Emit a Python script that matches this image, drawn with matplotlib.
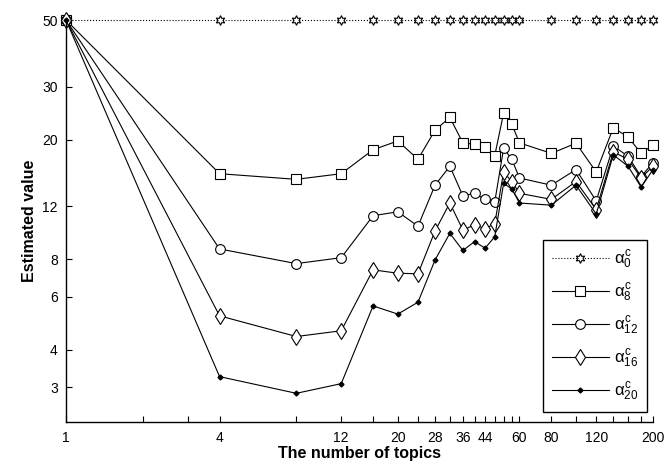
import numpy as np
import matplotlib
matplotlib.use('Agg')
import matplotlib.pyplot as plt

# number of topics
topics = [1, 4, 8, 12, 16, 20, 24, 28, 32, 36, 40, 44, 48, 52, 56, 60,
          80, 100, 120, 140, 160, 180, 200]

alpha0 = [50] * len(topics)
alpha8 = [50, 15.4, 14.75, 15.4, 18.5, 19.8, 17.2, 21.5, 23.7, 19.5, 19.3, 18.85,
          17.7, 24.5, 22.5, 19.5, 18.0, 19.45, 15.6, 21.9, 20.4, 18.0, 19.2]
alpha12 = [50, 8.65, 7.73, 8.09, 11.16, 11.5, 10.3, 14.1, 16.3, 13.0, 13.25, 12.65,
           12.4, 18.7, 17.2, 14.9, 14.1, 15.9, 12.5, 19.05, 17.6, 15.05, 16.75]
alpha16 = [50, 5.18, 4.42, 4.62, 7.37, 7.18, 7.15, 9.93, 12.3, 10.0, 10.4, 10.1,
           10.5, 15.6, 14.5, 13.25, 12.65, 14.5, 11.7, 18.2, 17.2, 14.9, 16.3]
alpha20 = [50, 3.25, 2.86, 3.08, 5.59, 5.25, 5.75, 7.95, 9.75, 8.55, 9.15, 8.7,
           9.5, 14.3, 13.7, 12.3, 12.1, 14.1, 11.3, 17.8, 16.3, 13.9, 15.85]

labels = [r'$\alpha_{0}^{c}$', r'$\alpha_{8}^{c}$', r'$\alpha_{12}^{c}$',
          r'$\alpha_{16}^{c}$', r'$\alpha_{20}^{c}$']

xtick_pos = [1, 2, 3, 4, 8, 12, 16, 20, 24, 28, 32, 36, 40, 44, 48, 52, 56, 60,
             80, 100, 120, 140, 160, 180, 200]
xtick_shown = [1, 4, 12, 20, 28, 36, 44, 60, 80, 120, 200]
ytick_pos = [3, 4, 6, 8, 12, 20, 30, 50]

plt.rcParams['font.family'] = ['Liberation Sans', 'DejaVu Sans']
plt.rcParams['mathtext.fontset'] = 'custom'
plt.rcParams['mathtext.rm'] = 'Liberation Sans'
plt.rcParams['mathtext.it'] = 'Liberation Sans'

fig = plt.figure(figsize=(6.67, 4.67), dpi=100)
ax = fig.add_axes([0.099, 0.0957, 0.8797, 0.8613])

lw = 0.8
ax.plot(topics, alpha0, linestyle=':', color='black', lw=lw, marker=(6, 1, 0),
        ms=7, mfc='white', mec='black', mew=0.8, label=labels[0], clip_on=False)
ax.plot(topics, alpha8, '-', color='black', lw=lw, marker='s', ms=7,
        mfc='white', mec='black', mew=0.8, label=labels[1], clip_on=False)
ax.plot(topics, alpha12, '-', color='black', lw=lw, marker='o', ms=7,
        mfc='white', mec='black', mew=0.8, label=labels[2], clip_on=False)
ax.plot(topics, alpha16, '-', color='black', lw=lw, marker='d', ms=8,
        mfc='white', mec='black', mew=0.8, label=labels[3], clip_on=False)
ax.plot(topics, alpha20, '-', color='black', lw=lw, marker='D', ms=2.5,
        mfc='black', mec='black', label=labels[4], clip_on=False)

ax.set_xscale('log')
ax.set_yscale('log')
ax.set_xlim(1, 200)
ax.set_ylim(2.29, 50)

ax.set_xticks(xtick_pos)
ax.set_xticklabels([str(t) if t in xtick_shown else '' for t in xtick_pos])
ax.set_yticks(ytick_pos)
ax.set_yticklabels([str(t) for t in ytick_pos])
ax.minorticks_off()
ax.tick_params(direction='in', length=4, width=0.8, labelsize=10, pad=6)

ax.spines['top'].set_visible(False)
ax.spines['right'].set_visible(False)
for s in ['left', 'bottom']:
    ax.spines[s].set_linewidth(1.0)

ax.set_xlabel('The number of topics', fontsize=11.5, fontweight='bold', labelpad=1)
ax.set_ylabel('Estimated value', fontsize=11.5, fontweight='bold', labelpad=4)

leg = ax.legend(loc='lower right', bbox_to_anchor=(0.990, 0.026), borderaxespad=0,
                fontsize=12, handlelength=3.4, labelspacing=0.62, borderpad=0.55,
                fancybox=False, edgecolor='black', framealpha=1, handletextpad=0.3)
leg.get_frame().set_linewidth(1.0)

fig.savefig('out.png', dpi=100)
